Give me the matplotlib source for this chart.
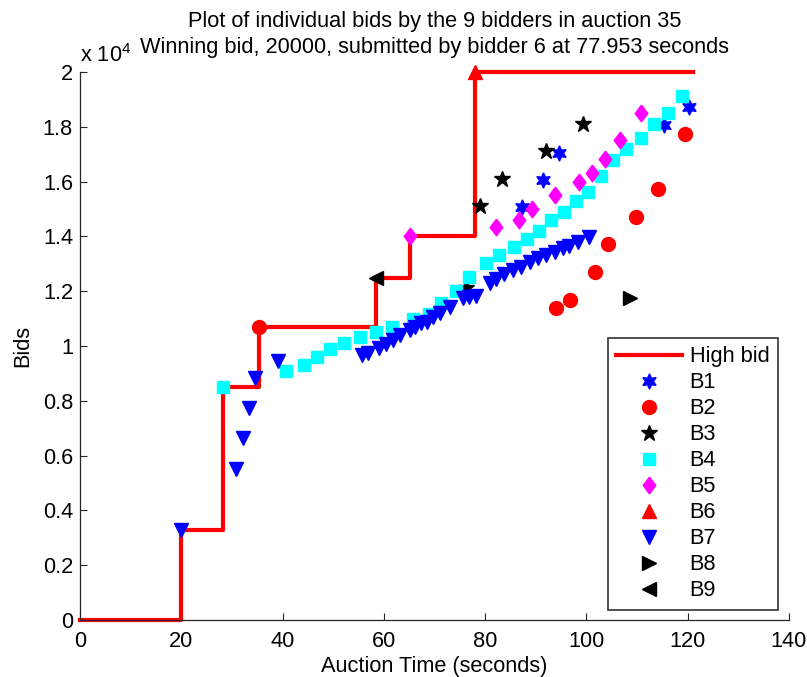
import matplotlib
matplotlib.use("Agg")
import matplotlib.pyplot as plt
import numpy as np

plt.rcParams['font.family'] = ['Liberation Sans', 'DejaVu Sans']
plt.rcParams['mathtext.fontset'] = 'custom'
plt.rcParams['mathtext.rm'] = 'Liberation Sans'
plt.rcParams['mathtext.default'] = 'regular'

# ---------------- data ----------------
hb_time = [0, 20, 28.3, 35.3, 58.5, 65.2, 77.953, 121]
hb_bid = [0, 3300, 8500, 10700, 12500, 14000, 20000, 20000]

b1_time = [87.3, 91.4, 94.5, 115.4, 120.2]
b1_bid = [15080, 16060, 17050, 18070, 18710]

b2_time = [35.3, 93.9, 96.8, 101.6, 104.3, 109.8, 114.2, 119.5]
b2_bid = [10700, 11400, 11680, 12710, 13710, 14720, 15720, 17730]

b3_time = [76.3, 78.9, 83.4, 92.0, 99.4]
b3_bid = [12110, 15110, 16090, 17110, 18100]

b4_time = [28.3, 40.7, 44.2, 46.8, 49.3, 52.1, 55.2, 58.5, 61.6, 65.7, 68.9,
           71.3, 74.2, 76.9, 80.2, 82.7, 85.6, 88.2, 90.6, 93.0, 95.5, 98.0,
           100.3, 102.8, 105.2, 107.8, 110.8, 113.4, 116.2, 118.8]
b4_bid = [8500, 9100, 9300, 9610, 9890, 10120, 10320, 10500, 10710, 10970, 11150,
          11560, 12020, 12510, 13020, 13320, 13600, 13900, 14200, 14600, 14900, 15290,
          15610, 16200, 16790, 17190, 17600, 18120, 18520, 19120]

b5_time = [65.2, 82.2, 86.6, 89.3, 93.7, 98.6, 101.1, 103.7, 106.7, 110.8]
b5_bid = [14000, 14330, 14600, 15000, 15510, 16000, 16300, 16810, 17520, 18520]

b6_time = [77.953]
b6_bid = [20000]

b7_time = [20.0, 30.9, 32.2, 33.3, 34.5, 39.1,
           55.6, 56.9, 59.0, 60.5, 61.8, 63.1, 65.1, 66.1, 67.4, 68.5, 69.7, 71.0,
           73.0, 75.6, 76.9, 78.2, 80.9, 82.2, 83.8, 85.5, 87.1, 88.8, 90.4, 92.1,
           93.7, 95.3, 96.6, 98.3, 100.6]
b7_bid = [3300, 5510, 6630, 7730, 8850, 9460,
          9670, 9730, 9920, 10070, 10220, 10400, 10580, 10700, 10830, 10890, 11070, 11190,
          11430, 11740, 11780, 11820, 12310, 12430, 12630, 12770, 12890, 13080, 13200, 13320,
          13440, 13570, 13650, 13810, 13990]

b8_time = [108.6]
b8_bid = [11760]

b9_time = [58.5]
b9_bid = [12500]

x_ticks = [0, 20, 40, 60, 80, 100, 120, 140]
y_ticks = [0, 2000, 4000, 6000, 8000, 10000, 12000, 14000, 16000, 18000, 20000]
y_tick_labels = ['0', '0.2', '0.4', '0.6', '0.8', '1', '1.2', '1.4', '1.6', '1.8', '2']

title_text = ("Plot of individual bids by the 9 bidders in auction 35\n"
              "Winning bid, 20000, submitted by bidder 6 at 77.953 seconds")

# ---------------- plot ----------------
fig = plt.figure(figsize=(8.07, 6.77), dpi=100)
ax = fig.add_axes([80/807, 57/677, 709/807, 548/677])

FS = 15.7
diamond = [(0, 1), (0.76, 0), (0, -1), (-0.76, 0), (0, 1)]

ax.step(hb_time, hb_bid, where='post', color='#ff0000', lw=3, label='High bid',
        clip_on=False, zorder=2)
kw = dict(linestyle='none', clip_on=False, zorder=3)
ax.plot(b1_time, b1_bid, marker=(6, 1, 0), color='#0000ff', ms=11, label='B1', **kw)
ax.plot(b2_time, b2_bid, marker='o', color='#ff0000', ms=10, label='B2', **kw)
ax.plot(b3_time, b3_bid, marker='*', color='black', ms=12, label='B3', **kw)
ax.plot(b4_time, b4_bid, marker='s', color='#00ffff', ms=8, label='B4', **kw)
ax.plot(b5_time, b5_bid, marker=diamond, color='#ff00ff', ms=12, label='B5', **kw)
ax.plot(b6_time, b6_bid, marker='^', color='#ff0000', ms=10, label='B6', **kw)
ax.plot(b7_time, b7_bid, marker='v', color='#0000ff', ms=10, label='B7', **kw)
ax.plot(b8_time, b8_bid, marker='>', color='black', ms=10, label='B8', **kw)
ax.plot(b9_time, b9_bid, marker='<', color='black', ms=10, label='B9', **kw)

ax.set_xlim(0, 140)
ax.set_ylim(0, 20000)
ax.set_xticks(x_ticks)
ax.set_xticklabels([str(t) for t in x_ticks], fontsize=FS)
ax.set_yticks(y_ticks)
ax.set_yticklabels(y_tick_labels, fontsize=FS)
ax.tick_params(direction='in', length=5, width=0.8, colors='#262626', labelcolor='black', pad=5)
ax.tick_params(axis='x', pad=8)

for s in ['top', 'right']:
    ax.spines[s].set_visible(False)
for s in ['left', 'bottom']:
    ax.spines[s].set_color('#262626')
    ax.spines[s].set_linewidth(0.9)

ax.set_xlabel('Auction Time (seconds)', fontsize=FS, labelpad=3)
ax.set_ylabel('Bids', fontsize=FS, labelpad=7)
ax.set_title(title_text, fontsize=FS, pad=14, linespacing=1.3)
ax.text(0.0, 1.01, r'x 10$^{4}$', transform=ax.transAxes, fontsize=FS,
        ha='left', va='bottom')

leg = ax.legend(loc='lower right', bbox_to_anchor=(0.9845, 0.018), borderaxespad=0,
                fontsize=FS, frameon=True, fancybox=False, handlelength=3.0,
                handletextpad=0.35, labelspacing=0.23, borderpad=0.4)
leg.get_frame().set_edgecolor('black')
leg.get_frame().set_linewidth(1.2)

fig.savefig('out.png', dpi=100)
